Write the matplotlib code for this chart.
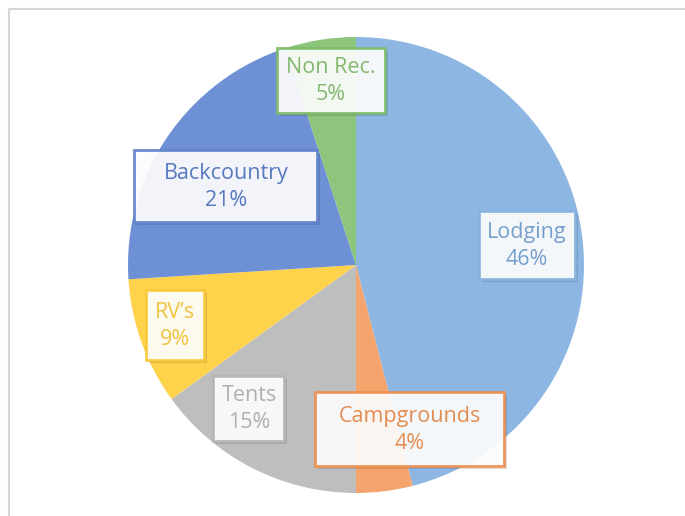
import matplotlib
matplotlib.use('Agg')
import matplotlib.pyplot as plt
from matplotlib.patches import Rectangle

labels = ['Lodging', 'Campgrounds', 'Tents', "RV\u2019s", 'Backcountry', 'Non Rec.']
shares = [46, 4, 15, 9, 21, 5]
slice_colors = ['#8DB7E2', '#F4A46C', '#BEBEBE', '#FFD24C', '#6E90D4', '#8EC57C']
edge_colors = ['#86B0DE', '#EE8E4E', '#B5B5B5', '#F8C83A', '#5F82CB', '#7DBA68']
text_colors = ['#769FCD', '#E38D52', '#B0B0B0', '#F0C440', '#5779C0', '#84B870']

# label boxes in pixel coords (center x, center y from top, width, height)
boxes = [(527, 245, 96, 68), (410, 429, 189, 74), (249, 408, 71, 65),
         (175, 325, 58, 70), (226, 186, 183, 72), (331, 80, 108, 65)]

W, H = 685, 516
fig = plt.figure(figsize=(6.85, 5.16), dpi=100)
ax = fig.add_axes([0, 0, 1, 1])

# chart frame (only left and top edges visible)
ax.plot([9.5, 9.5, W], [0, H - 8.5, H - 8.5], color='#D6D6D6', lw=1.5)

ax.pie(shares, colors=slice_colors, startangle=90, counterclock=False,
       center=(356, H - 265), radius=228, frame=True,
       wedgeprops=dict(linewidth=0))
ax.set_xlim(0, W)
ax.set_ylim(0, H)
ax.set_aspect('equal')
ax.axis('off')

for lab, pct, (cx, cy, bw, bh), ec, tc in zip(labels, shares, boxes, edge_colors, text_colors):
    y = H - cy
    # soft shadow
    ax.add_patch(Rectangle((cx - bw / 2 + 3, y - bh / 2 - 3), bw, bh,
                           facecolor='#000000', alpha=0.12, lw=0, zorder=4))
    ax.add_patch(Rectangle((cx - bw / 2, y - bh / 2), bw, bh,
                           facecolor='white', alpha=0.92, edgecolor=ec, lw=2, zorder=5))
    ax.text(cx, y - 1, lab + '\n' + str(pct) + '%', ha='center', va='center',
            color=tc, fontsize=15.5, family=['Open Sans', 'DejaVu Sans'],
            linespacing=1.35, zorder=6)

fig.savefig('out.png', dpi=100)
